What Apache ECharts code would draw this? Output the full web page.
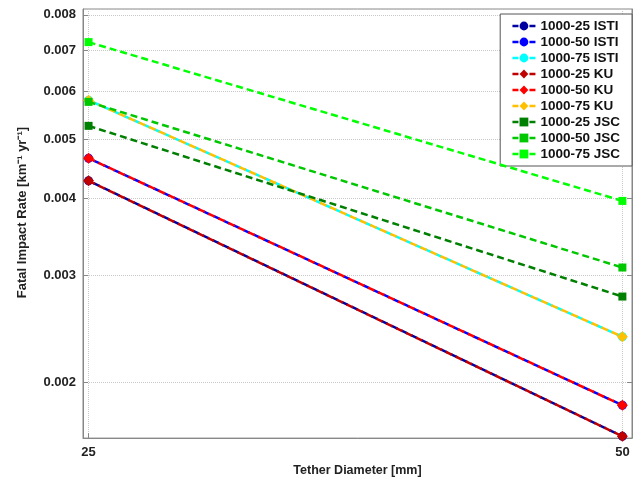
<!DOCTYPE html>
<html><head><meta charset="utf-8">
<script src="https://cdn.jsdelivr.net/npm/echarts@6/dist/echarts.min.js"></script>
<style>html,body{margin:0;padding:0;background:#fff}#c{width:637px;height:482px}</style>
</head><body><div id="c"></div>
<script>
const diameters = [25, 50];
const seriesNames = ['1000-25 ISTI','1000-50 ISTI','1000-75 ISTI','1000-25 KU','1000-50 KU','1000-75 KU','1000-25 JSC','1000-50 JSC','1000-75 JSC'];
const isti25 = [0.00428, 0.001633];
const isti50 = [0.00466, 0.001836];
const isti75 = [0.00580, 0.002377];
const ku25 = [0.00428, 0.001633];
const ku50 = [0.00466, 0.001836];
const ku75 = [0.00580, 0.002377];
const jsc25 = [0.005265, 0.002766];
const jsc50 = [0.005763, 0.003086];
const jsc75 = [0.00722, 0.003967];
const yTicks = [0.002, 0.003, 0.004, 0.005, 0.006, 0.007, 0.008];
const xTicks = [25, 50];

const values = [isti25, isti50, isti75, ku25, ku50, ku75, jsc25, jsc50, jsc75];
const colors = ['#0000a0','#0000ff','#00ffff','#c00000','#ff0000','#ffc000','#008000','#00c800','#00ff00'];
const symbols = ['circle','circle','circle','diamond','diamond','diamond','rect','rect','rect'];
const sizes = [9,9,9,11,11,11,8,8,8];

const series = seriesNames.map((n,i)=>({
  name:n, type:'line',
  data: diameters.map((d,j)=>[d, values[i][j]]),
  symbol: symbols[i], symbolSize: sizes[i], showSymbol:true,
  itemStyle:{color:colors[i]},
  lineStyle:{color:colors[i], width:2.5, type:[7,4], dashOffset: i<3 ? 5.5 : 0},
  z: 2 + i
}));

const font = 'Liberation Sans, Arial';
const chart = echarts.init(document.getElementById('c'));
chart.setOption({
  animation:false,
  grid:{left:83, right:5, top:9, bottom:40, show:true, borderColor:'#888', borderWidth:1},
  legend:{
    orient:'vertical', right:5, top:14, backgroundColor:'#fff', borderColor:'#555', borderWidth:1,
    padding:[5,12,5,11], itemGap:2, itemWidth:23, itemHeight:11,
    lineStyle:{type:[6,11], width:2.5, dashOffset:0},
    textStyle:{fontFamily:font, fontWeight:'bold', fontSize:13.5, lineHeight:14, color:'#111'},
    data: seriesNames
  },
  xAxis:{
    type:'value', min:24.74, max:50.45,
    name:'Tether Diameter [mm]', nameLocation:'middle', nameGap:25,
    nameTextStyle:{fontFamily:font, fontWeight:'bold', fontSize:12.5, color:'#222'},
    axisLine:{show:true, lineStyle:{color:'#888'}},
    axisTick:{show:true, inside:true, length:5, customValues:xTicks, lineStyle:{color:'#888'}},
    axisLabel:{customValues:xTicks, fontFamily:font, fontWeight:'bold', fontSize:13, color:'#222', margin:8},
    splitLine:{show:true, lineStyle:{type:'dotted', color:'#c8c8c8'}}
  },
  yAxis:[{
    type:'log', logBase:10, min:0.001622, max:0.00818,
    name:'Fatal Impact Rate [km⁻¹ yr⁻¹]', nameLocation:'middle', nameGap:54,
    nameTextStyle:{fontFamily:font, fontWeight:'bold', fontSize:13, color:'#222', padding:[0,0,0,22]},
    axisLine:{show:true, lineStyle:{color:'#888'}},
    axisTick:{show:true, inside:true, length:5, customValues:yTicks, lineStyle:{color:'#888'}},
    axisLabel:{customValues:yTicks, formatter:v=>(+v).toFixed(3), fontFamily:font, fontWeight:'bold', fontSize:13, color:'#222', margin:7},
    splitLine:{show:true, lineStyle:{type:'dotted', color:'#c8c8c8'}}
  },{
    type:'log', logBase:10, min:0.001622, max:0.00818, position:'right',
    axisLine:{show:true, lineStyle:{color:'#888'}},
    axisTick:{show:true, inside:true, length:5, customValues:yTicks, lineStyle:{color:'#888'}},
    axisLabel:{show:false}, splitLine:{show:false}
  }],
  series
});
</script></body></html>
